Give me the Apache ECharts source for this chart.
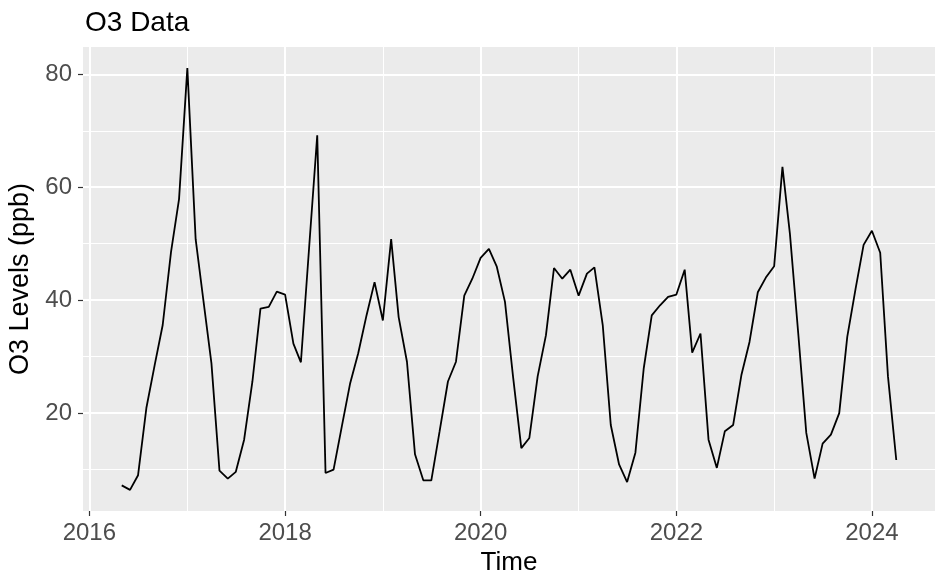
<!DOCTYPE html>
<html>
<head>
<meta charset="utf-8">
<script src="https://cdn.jsdelivr.net/npm/echarts@6/dist/echarts.min.js"></script>
<style>
html,body{margin:0;padding:0;background:#fff;}
#chart{width:945px;height:584px;}
</style>
</head>
<body>
<div id="chart"></div>
<script>
// First observation month (monthly series)
const startYear = 2016;
const startMonth = 5; // May
// O3 levels (ppb), monthly from 2016-05 to 2024-04
const o3Values = [
  7.2, 6.4, 9.0, 20.9, 28.5, 35.6, 48.5, 57.9,
  81.1, 50.8, 40.3, 28.8, 9.8, 8.4, 9.6, 15.3, 25.6, 38.5, 38.8, 41.5,
  41.0, 32.3, 29.0, 49.5, 69.2, 9.4, 10.0, 17.7, 25.3, 30.6, 37.3, 43.2,
  36.4, 50.8, 37.0, 29.1, 12.7, 8.1, 8.1, 16.8, 25.6, 29.1, 40.8, 43.8,
  47.5, 49.1, 46.0, 39.7, 26.5, 13.8, 15.6, 26.5, 33.8, 45.7, 43.8, 45.4,
  40.8, 44.7, 45.8, 35.6, 17.9, 10.9, 7.8, 13.0, 27.9, 37.3, 39.1, 40.6,
  41.0, 45.4, 30.7, 34.1, 15.3, 10.3, 16.8, 17.9, 26.8, 32.6, 41.4, 44.0,
  46.0, 63.6, 51.7, 34.1, 16.5, 8.4, 14.6, 16.2, 20.0, 33.5, 42.0, 49.8,
  52.3, 48.4, 26.5, 11.7
];
const xMajorYears = [2016, 2018, 2020, 2022, 2024];
const xMinorYears = [2017, 2019, 2021, 2023];
const yMajorTicks = [20, 40, 60, 80];
const yMinorTicks = [10, 30, 50, 70];

const dates = o3Values.map((v, i) => Date.UTC(startYear, startMonth - 1 + i, 1));
const seriesData = o3Values.map((v, i) => [dates[i], v]);

// ggplot-like 5% expansion of the data range
const xSpan = dates[dates.length - 1] - dates[0];
const xMin = dates[0] - 0.05 * xSpan;
const xMax = dates[dates.length - 1] + 0.05 * xSpan;
const yLo = Math.min(...o3Values), yHi = Math.max(...o3Values);
const yMin = yLo - 0.05 * (yHi - yLo);
const yMax = yHi + 0.05 * (yHi - yLo);

const yr = y => Date.UTC(y, 0, 1);
const FONT = '"Liberation Sans", Arial, sans-serif';

const chart = echarts.init(document.getElementById('chart'), null, {renderer: 'canvas'});
chart.setOption({
  animation: false,
  backgroundColor: '#ffffff',
  title: {
    text: 'O3 Data',
    left: 80, top: 4,
    textStyle: {fontFamily: FONT, fontSize: 28, fontWeight: 'normal', color: '#000'}
  },
  grid: {
    left: 83, right: 10, top: 47, bottom: 73,
    show: true, backgroundColor: '#EBEBEB', borderWidth: 0,
    containLabel: false, outerBoundsMode: 'none'
  },
  xAxis: [
    {
      type: 'value', min: xMin, max: xMax, position: 'bottom', offset: 0,
      axisLine: {show: false},
      axisTick: {show: false, customValues: xMinorYears.map(yr)},
      axisLabel: {show: false, customValues: xMinorYears.map(yr)},
      splitLine: {show: true, lineStyle: {color: '#ffffff', width: 1}}
    },
    {
      type: 'value', min: xMin, max: xMax, position: 'bottom', offset: 0,
      axisLine: {show: false},
      axisTick: {show: true, length: 5, lineStyle: {color: '#333333', width: 1.2}, customValues: xMajorYears.map(yr)},
      axisLabel: {
        show: true, customValues: xMajorYears.map(yr), margin: 10,
        fontFamily: FONT, fontSize: 24, color: '#4D4D4D',
        formatter: v => String(new Date(v).getUTCFullYear())
      },
      splitLine: {show: true, lineStyle: {color: '#ffffff', width: 2}},
      name: 'Time', nameLocation: 'middle', nameGap: 34,
      nameTextStyle: {fontFamily: FONT, fontSize: 26, color: '#000'}
    }
  ],
  yAxis: [
    {
      type: 'value', min: yMin, max: yMax, position: 'left', offset: 0,
      axisLine: {show: false},
      axisTick: {show: false, customValues: yMinorTicks},
      axisLabel: {show: false, customValues: yMinorTicks},
      splitLine: {show: true, lineStyle: {color: '#ffffff', width: 1}}
    },
    {
      type: 'value', min: yMin, max: yMax, position: 'left', offset: 0,
      axisLine: {show: false},
      axisTick: {show: true, length: 5, lineStyle: {color: '#333333', width: 1.2}, customValues: yMajorTicks},
      axisLabel: {
        show: true, customValues: yMajorTicks, margin: 11,
        fontFamily: FONT, fontSize: 24, color: '#4D4D4D'
      },
      splitLine: {show: true, lineStyle: {color: '#ffffff', width: 2}},
      name: 'O3 Levels (ppb)', nameLocation: 'middle', nameGap: 47, nameRotate: 90,
      nameTextStyle: {fontFamily: FONT, fontSize: 27, color: '#000'}
    }
  ],
  series: [{
    type: 'line',
    xAxisIndex: 1, yAxisIndex: 1,
    data: seriesData,
    showSymbol: false,
    symbol: 'none',
    lineStyle: {color: '#000000', width: 1.8},
    z: 5
  }]
});
</script>
</body>
</html>
